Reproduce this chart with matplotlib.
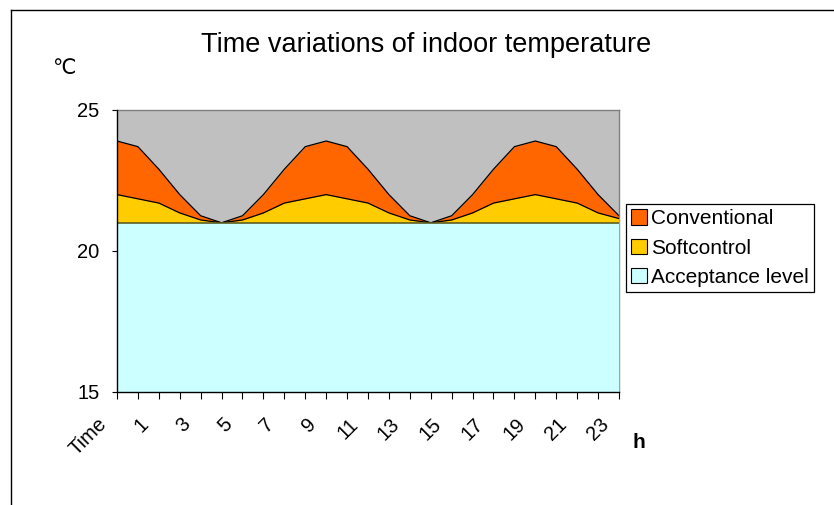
import matplotlib
matplotlib.use("Agg")
import matplotlib.pyplot as plt
from matplotlib.lines import Line2D
from matplotlib.patches import Patch
from matplotlib.transforms import ScaledTranslation

plt.rcParams["font.family"] = ["Liberation Sans", "DejaVu Sans"]

# categories: "Time" column header then hours 0..23
categories = ["Time"] + [str(h) for h in range(24)]
conventional = [23.9, 23.7, 22.9, 22.0, 21.25, 21.0, 21.25, 22.0, 22.9, 23.7, 23.9, 23.7, 22.9,
                22.0, 21.25, 21.0, 21.25, 22.0, 22.9, 23.7, 23.9, 23.7, 22.9, 22.0, 21.25]
softcontrol = [22.0, 21.85, 21.7, 21.35, 21.1, 21.0, 21.1, 21.35, 21.7, 21.85, 22.0, 21.85, 21.7,
               21.35, 21.1, 21.0, 21.1, 21.35, 21.7, 21.85, 22.0, 21.85, 21.7, 21.35, 21.15]
acceptance = [21.0] * 25
y_ticks = [15, 20, 25]

W, H = 834, 505
fig = plt.figure(figsize=(W / 100, H / 100), dpi=100)
ax = fig.add_axes([117 / W, 1 - 392 / H, 502 / W, 282 / H])
ax.set_facecolor("#C0C0C0")

x = list(range(len(categories)))
ax.fill_between(x, 15, conventional, color="#FF6600", lw=0, zorder=1)
ax.plot(x, conventional, color="black", lw=0.9, zorder=2)
ax.fill_between(x, 15, softcontrol, color="#FFCC00", lw=0, zorder=3)
ax.plot(x, softcontrol, color="black", lw=0.9, zorder=4)
ax.fill_between(x, 15, acceptance, color="#CCFFFF", lw=0, zorder=5)
ax.plot(x, acceptance, color="#5e5e24", lw=1.2, zorder=6)

ax.set_xlim(0, len(categories) - 1)
ax.set_ylim(15, 25)

ax.set_yticks(y_ticks)
ax.tick_params(axis="y", length=3.5, width=0.8, pad=9, labelsize=14.5, colors="black")
ax.set_xticks(x)
ax.set_xticklabels([c if i % 2 == 0 else "" for i, c in enumerate(categories)])
ax.tick_params(axis="x", length=5, width=0.8, pad=0, labelsize=14.5)
offset = ScaledTranslation(-13 / 100, -22 / 100, fig.dpi_scale_trans)
for lbl in ax.get_xticklabels():
    lbl.set_rotation(45)
    lbl.set_rotation_mode("anchor")
    lbl.set_ha("right")
    lbl.set_va("center")
    lbl.set_transform(lbl.get_transform() + offset)

for side in ["top", "right"]:
    ax.spines[side].set_color("#808080")
    ax.spines[side].set_linewidth(1.0)
for side in ["left", "bottom"]:
    ax.spines[side].set_color("black")
    ax.spines[side].set_linewidth(1.0)
    ax.spines[side].set_zorder(10)

fig.text(426 / W, 1 - 45 / H, "Time variations of indoor temperature", fontsize=19.5,
         ha="center", va="center")
fig.text(52 / W, 1 - 68 / H, "℃", fontsize=15, ha="left", va="center")
fig.text(639 / W, 1 - 443 / H, "h", fontsize=15, fontweight="bold", ha="center", va="center")

handles = [Patch(facecolor="#FF6600", edgecolor="black", lw=0.8),
           Patch(facecolor="#FFCC00", edgecolor="black", lw=0.8),
           Patch(facecolor="#CCFFFF", edgecolor="black", lw=0.8)]
leg = fig.legend(handles, ["Conventional", "Softcontrol", "Acceptance level"],
                 loc="upper left", bbox_to_anchor=(626 / W, 1 - 204 / H), fontsize=15,
                 frameon=True, fancybox=False, edgecolor="black", framealpha=1,
                 handlelength=0.75, handleheight=0.75, handletextpad=0.2,
                 borderpad=0.25, labelspacing=0.5, borderaxespad=0)
leg.get_frame().set_linewidth(0.9)

# chart area frame
fig.add_artist(Line2D([11 / W, 11 / W], [0, 1 - 10 / H], color="black", lw=1.0))
fig.add_artist(Line2D([11 / W, 1], [1 - 10 / H, 1 - 10 / H], color="black", lw=1.0))

fig.savefig("out.png", dpi=100)
